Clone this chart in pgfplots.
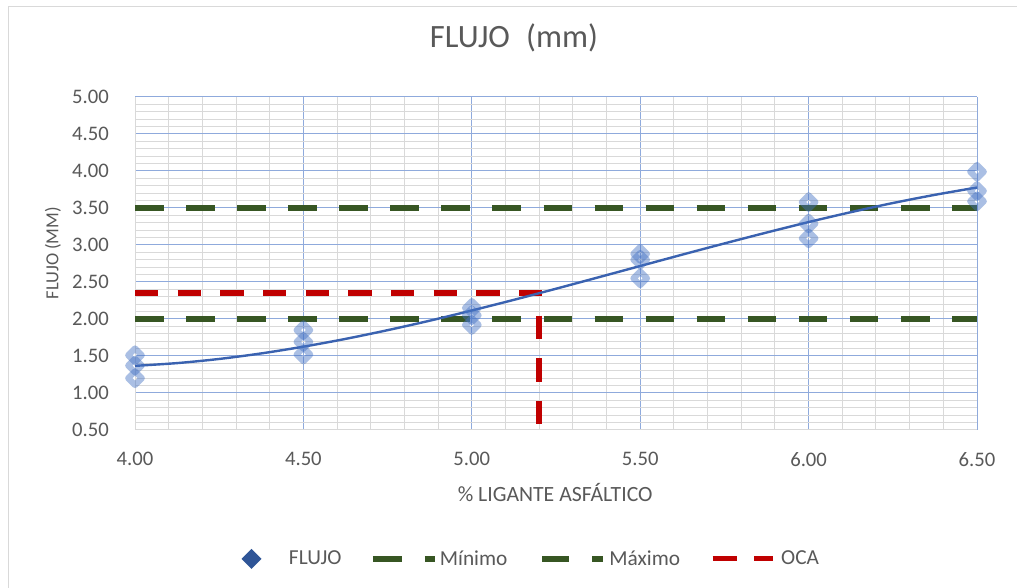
\documentclass[border=0pt]{standalone}
\usepackage{fontspec}
\setmainfont{Carlito}
\usepackage{pgfplots}
\pgfplotsset{compat=1.18}
\definecolor{txt}{HTML}{595959}
\definecolor{gmaj}{HTML}{8FAADC}
\definecolor{gmin}{HTML}{D9D9D9}
\definecolor{ser}{HTML}{4472C4}
\definecolor{serdark}{HTML}{2F5597}
\definecolor{curva}{HTML}{3A62B0}
\definecolor{verde}{HTML}{375623}
\definecolor{rojo}{HTML}{C00000}
\definecolor{borde}{HTML}{D9D9D9}
\begin{document}
\begin{tikzpicture}
\path[use as bounding box] (0,0) rectangle (762.75pt,441pt);
\fill[white] (0,0) rectangle (762.75pt,441pt);
\draw[borde, line width=0.75pt] (6pt,0pt) -- (6pt,435.75pt) -- (762.75pt,435.75pt);
\begin{axis}[
  at={(101.25pt,118.5pt)}, anchor=south west,
  scale only axis, width=631.5pt, height=249.75pt,
  xmin=4, xmax=6.5, ymin=0.5, ymax=5,
  xtick={4,4.5,...,6.5}, ytick={0.5,1,...,5},
  minor x tick num=4, minor y tick num=4,
  grid=both,
  major grid style={gmaj, line width=0.75pt},
  minor grid style={gmin, line width=0.75pt},
  axis lines=left,
  axis line style={-, draw=borde, line width=0.75pt},
  major tick length=0pt, minor tick length=0pt,
  tick style={draw=none},
  clip=false,
  tick label style={font=\fontsize{15.5}{18}\selectfont, text=txt, inner sep=0pt},
  xticklabel style={yshift=-16.5pt},
  yticklabel style={xshift=-19.5pt},
  /pgf/number format/.cd, fixed, fixed zerofill, precision=2, assume math mode=true,
  /pgfplots/.cd,
  title={FLUJO\hspace{0.5em}(mm)},
  title style={at={(axis description cs:0.45,1.153)}, anchor=center, font=\fontsize{24.4}{29}\selectfont, text=txt},
  xlabel={\% LIGANTE ASFÁLTICO},
  xlabel style={at={(axis description cs:0.499,-0.189)}, anchor=center, font=\fontsize{16.3}{19}\selectfont, text=txt},
  ylabel={FLUJO (MM)},
  ylabel style={at={(axis description cs:-0.0974,0.5315)}, anchor=center, font=\fontsize{13.8}{16}\selectfont, text=txt},
  legend columns=4,
  legend style={at={(axis description cs:0.1265,-0.387)}, anchor=west, draw=none, fill=none,
    inner sep=0pt, outer sep=0pt, column sep=0pt,
    nodes={inner sep=0pt, font=\fontsize{16}{19}\selectfont, text=txt},
    /tikz/every even column/.style={column sep=0pt},
    /tikz/every odd column/.style={column sep=0pt}},
]
\addplot[only marks, mark=square, mark size=3.6pt,
  mark options={rotate=45, draw=ser, draw opacity=0.45, line width=4.6pt, line join=round},
  legend image code/.code={
    \fill[serdark, draw=none] (0pt,0pt) -- (7.5pt,7.5pt) -- (15pt,0pt) -- (7.5pt,-7.5pt) -- cycle;
    \path[draw=none, fill=none] (0pt,0pt) -- (35.6pt,0pt);}]
coordinates {
(4.0,1.51) (4.0,1.37) (4.0,1.20)
(4.5,1.85) (4.5,1.69) (4.5,1.52)
(5.0,2.15) (5.0,2.05) (5.0,1.92)
(5.5,2.88) (5.5,2.80) (5.5,2.55)
(6.0,3.58) (6.0,3.29) (6.0,3.09)
(6.5,3.99) (6.5,3.73) (6.5,3.59)
};
\addplot[verde, line width=4.5pt, dash pattern=on 21.4pt off 16.9pt,
  legend image code/.code={
    \draw[verde, line width=4.6pt, solid] (23.5pt,0pt) -- (45.3pt,0pt);
    \draw[verde, line width=4.6pt, solid] (62.6pt,0pt) -- (70.4pt,0pt);
    \path[draw=none, fill=none] (0pt,0pt) -- (73.8pt,0pt);}]
coordinates {(4,2) (6.5,2)};
\addplot[verde, line width=4.5pt, dash pattern=on 21.4pt off 16.9pt,
  legend image code/.code={
    \draw[verde, line width=4.6pt, solid] (26.3pt,0pt) -- (46.5pt,0pt);
    \draw[verde, line width=4.6pt, solid] (63.8pt,0pt) -- (72pt,0pt);
    \path[draw=none, fill=none] (0pt,0pt) -- (76.5pt,0pt);}]
coordinates {(4,3.5) (6.5,3.5)};
\addplot[rojo, line width=4pt, dash pattern=on 17.5pt off 14.5pt,
  legend image code/.code={
    \draw[rojo, line width=3.9pt, solid] (24.4pt,0pt) -- (42.8pt,0pt);
    \draw[rojo, line width=3.9pt, solid] (55.5pt,0pt) -- (69.8pt,0pt);
    \path[draw=none, fill=none] (0pt,0pt) -- (75.8pt,0pt);}]
coordinates {(4,2.35) (5.2,2.35) (5.2,0.5)};
\addplot[curva, line width=1.8pt, smooth, forget plot] coordinates {
(4.000,1.367) (4.125,1.404) (4.250,1.460) (4.375,1.535) (4.500,1.626)
(4.625,1.731) (4.750,1.849) (4.875,1.977) (5.000,2.115) (5.125,2.259)
(5.250,2.409) (5.375,2.562) (5.500,2.716) (5.625,2.870) (5.750,3.021)
(5.875,3.168) (6.000,3.310) (6.125,3.443) (6.250,3.567) (6.375,3.678)
(6.500,3.777)
};
\legend{FLUJO, Mínimo, Máximo, OCA}
\end{axis}
\end{tikzpicture}
\end{document}
